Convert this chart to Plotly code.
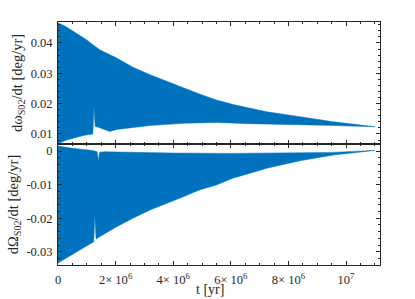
import plotly.graph_objects as go

# ---- Data: envelopes (t in yr) ----
t_w_up = [0, 0.25e6, 0.5e6, 1.0e6, 1.2e6, 1.46e6, 2.04e6, 2.6e6, 3.2e6, 4.35e6, 4.93e6,
          5.5e6, 6.09e6, 6.67e6, 7.25e6, 8.4e6, 9.56e6, 1.1e7]
w_up = [0.0466, 0.0455, 0.0440, 0.0410, 0.0395, 0.0377, 0.0350, 0.0320, 0.0295, 0.0251, 0.0231,
        0.0212, 0.0197, 0.0185, 0.0173, 0.0157, 0.0140, 0.0124]

t_w_lo = [0, 0.3e6, 0.88e6, 1.21e6, 1.25e6, 1.29e6, 1.4e6, 1.63e6, 1.8e6, 2.04e6, 3.2e6, 4.35e6,
          5.5e6, 6.67e6, 7.25e6, 8.4e6, 9.56e6, 1.1e7]
w_lo = [0.0068, 0.0080, 0.0095, 0.0100, 0.0190, 0.0125, 0.0122, 0.0115, 0.0108, 0.0115, 0.0128,
        0.0135, 0.0138, 0.0134, 0.0133, 0.0131, 0.0128, 0.0124]

t_O_up = [0, 0.5e6, 1.2e6, 1.36e6, 1.40e6, 1.44e6, 1.6e6, 2.0e6, 4.0e6, 6.0e6, 8.0e6, 9.5e6, 1.1e7]
O_up = [0.0015, 0.0008, 0.0002, -0.0002, -0.0030, -0.0004, -0.0002, -0.0003, -0.0006, -0.0007,
        -0.0006, -0.0004, 0.0002]

t_O_lo = [0, 0.3e6, 0.88e6, 1.24e6, 1.28e6, 1.32e6, 1.46e6, 2.04e6, 2.6e6, 3.2e6, 4.35e6, 4.93e6,
          5.5e6, 6.09e6, 6.67e6, 7.25e6, 8.4e6, 9.56e6, 1.1e7]
O_lo = [-0.0333, -0.0318, -0.0290, -0.0270, -0.0190, -0.0262, -0.0254, -0.0225, -0.0200, -0.0175,
        -0.0136, -0.0115, -0.0101, -0.0080, -0.0066, -0.0051, -0.0029, -0.0012, 0.0002]

x_tickvals = [0, 2e6, 4e6, 6e6, 8e6, 1e7]
x_ticktext = ["0", "2× 10<sup>6</sup>", "4× 10<sup>6</sup>", "6× 10<sup>6</sup>",
              "8× 10<sup>6</sup>", "10<sup>7</sup>"]
w_tickvals = [0.01, 0.02, 0.03, 0.04]
w_ticktext = ["0.01", "0.02", "0.03", "0.04"]
O_tickvals = [0, -0.01, -0.02, -0.03]
O_ticktext = ["0", "-0.01", "-0.02", "-0.03"]

BLUE = "#0072BD"
FONT = "Liberation Serif, Times New Roman, Times, serif"
FS = 12.5
TFS = 14.5

fig = go.Figure()
fig.add_trace(go.Scatter(x=t_w_up, y=w_up, mode="lines", line=dict(color=BLUE, width=0.5),
                         xaxis="x", yaxis="y", showlegend=False))
fig.add_trace(go.Scatter(x=t_w_lo, y=w_lo, mode="lines", line=dict(color=BLUE, width=0.5),
                         fill="tonexty", fillcolor=BLUE, xaxis="x", yaxis="y", showlegend=False))
fig.add_trace(go.Scatter(x=t_O_up, y=O_up, mode="lines", line=dict(color=BLUE, width=0.5),
                         xaxis="x2", yaxis="y2", showlegend=False))
fig.add_trace(go.Scatter(x=t_O_lo, y=O_lo, mode="lines", line=dict(color=BLUE, width=0.5),
                         fill="tonexty", fillcolor=BLUE, xaxis="x2", yaxis="y2", showlegend=False))

axis_common = dict(showline=True, linecolor="#262626", linewidth=1, mirror="ticks",
                   ticks="inside", ticklen=4, tickcolor="#262626", showgrid=False,
                   zeroline=False, automargin=False,
                   tickfont=dict(family=FONT, size=FS, color="#262626"))
xr = [0, 1.118e7]
fig.update_layout(
    width=415, height=299,
    margin=dict(l=58, r=35, t=22, b=34),
    paper_bgcolor="white", plot_bgcolor="white",
    font=dict(family=FONT, size=FS, color="#262626"),
    xaxis=dict(domain=[0, 1], anchor="y", range=xr, tickvals=x_tickvals, showticklabels=False,
               minor=dict(ticks="inside", ticklen=2, dtick=5e5, tickcolor="#262626"), **axis_common),
    yaxis=dict(domain=[0.498, 1], anchor="x", range=[0.0067, 0.0469], tickvals=w_tickvals,
               ticktext=w_ticktext, ticklabelstandoff=2,
               minor=dict(ticks="inside", ticklen=2, dtick=0.002, tickcolor="#262626"),
               title=dict(text="dω<sub>S02</sub>/dt [deg/yr]", font=dict(family=FONT, size=TFS),
                          standoff=4), **axis_common),
    xaxis2=dict(domain=[0, 1], anchor="y2", range=xr, tickvals=x_tickvals, ticktext=x_ticktext,
                ticklabelstandoff=3,
                minor=dict(ticks="inside", ticklen=2, dtick=5e5, tickcolor="#262626"),
                **axis_common),
    yaxis2=dict(domain=[0, 0.498], anchor="x2", range=[-0.0339, 0.0021], tickvals=O_tickvals,
                ticktext=O_ticktext, ticklabelstandoff=2,
                minor=dict(ticks="inside", ticklen=2, dtick=0.002, tickcolor="#262626"),
                title=dict(text="dΩ<sub>S02</sub>/dt [deg/yr]", font=dict(family=FONT, size=TFS),
                           standoff=4), **axis_common),
    annotations=[dict(text="t [yr]", xref="paper", yref="paper", x=0.472, y=-0.139,
                      xanchor="center", yanchor="bottom", showarrow=False,
                      font=dict(family=FONT, size=14, color="#262626"))],
)

fig.write_html("out.html", config={"displayModeBar": False},
               post_script="document.body.style.margin='0';")
